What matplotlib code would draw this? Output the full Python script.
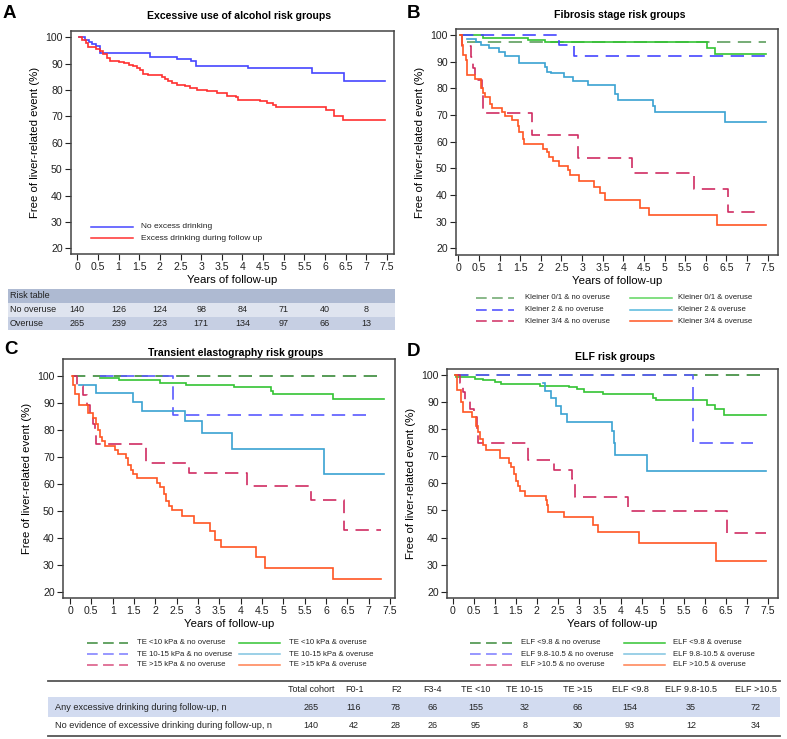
import matplotlib
matplotlib.use("Agg")
import matplotlib.pyplot as plt
from matplotlib.lines import Line2D
from matplotlib.patches import Rectangle
import matplotlib.transforms as mtransforms

plt.rcParams['font.family'] = ['Liberation Sans', 'DejaVu Sans']

W, H = 787, 739
fig = plt.figure(figsize=(W / 100, H / 100), dpi=100)


def fx(px):
    return px / W


def fy(py):
    return 1 - py / H


# ---------------- DATA ----------------
year_ticks = [0, 0.5, 1, 1.5, 2, 2.5, 3, 3.5, 4, 4.5, 5, 5.5, 6, 6.5, 7, 7.5]
year_tick_labels = ['0', '0.5', '1', '1.5', '2', '2.5', '3', '3.5', '4', '4.5', '5', '5.5', '6', '6.5', '7', '7.5']
pct_ticks = [20, 30, 40, 50, 60, 70, 80, 90, 100]

# Panel A
a_none_t = [0.05, 0.19, 0.29, 0.35, 0.45, 0.56, 1.77, 2.41, 2.75, 2.87, 4.13, 5.68, 6.47, 7.46]
a_none_s = [100, 99.0, 98.4, 97.5, 96.7, 94.2, 92.7, 91.9, 91.0, 89.3, 88.2, 86.5, 83.6, 83.6]
a_over_t = [0.05, 0.12, 0.2, 0.27, 0.45, 0.55, 0.62, 0.71, 0.79, 1.0, 1.13, 1.25, 1.36, 1.45,
            1.52, 1.6, 1.72, 2.05, 2.12, 2.2, 2.3, 2.41, 2.6, 2.73, 2.89, 3.14, 3.38, 3.62,
            3.85, 3.9, 4.43, 4.59, 4.75, 4.82, 6.03, 6.21, 6.43, 7.46]
a_over_s = [100, 99.0, 98.0, 96.5, 95.4, 94.8, 93.5, 92.0, 91.1, 90.8, 90.2, 89.6, 89.1, 88.4,
            87.6, 86.1, 85.6, 85.0, 84.2, 83.3, 82.6, 82.0, 81.5, 80.7, 80.0, 79.6, 78.8, 77.9,
            77.2, 76.2, 75.7, 75.0, 74.2, 73.4, 72.4, 70.0, 68.8, 68.8]
risk_years = [0, 1, 2, 3, 4, 5, 6, 7]
risk_no_overuse = [140, 126, 124, 98, 84, 71, 40, 8]
risk_overuse = [265, 239, 223, 171, 134, 97, 66, 13]

# Panel B (Kleiner fibrosis stage)
b_k01_no_t = [0.2, 7.45]
b_k01_no_s = [97.4, 97.4]
b_k01_ov_t = [0.05, 0.61, 1.7, 2.09, 6.03, 6.22, 7.45]
b_k01_ov_s = [100, 99.0, 98.3, 97.5, 95.0, 92.9, 92.9]
b_k2_no_t = [0.05, 2.43, 2.81, 7.43]
b_k2_no_s = [100, 96.2, 92.2, 92.2]
b_k2_ov_t = [0.22, 0.44, 0.55, 0.75, 0.99, 1.13, 1.47, 2.1, 2.16, 2.25, 2.57, 2.79, 3.14,
             3.8, 3.86, 4.72, 4.77, 6.47, 7.45]
b_k2_ov_s = [98.5, 97.5, 96.3, 95.0, 93.6, 92.2, 89.5, 88.0, 86.3, 85.6, 84.3, 82.8, 81.2,
             78.0, 75.5, 73.5, 71.2, 67.3, 67.3]
b_k34_no_t = [0.05, 0.08, 0.3, 0.35, 0.4, 0.57, 0.59, 0.61, 1.78, 2.91, 4.2, 5.72, 6.53, 7.2]
b_k34_no_s = [100, 95.8, 91.7, 87.5, 83.3, 79.2, 75.0, 70.8, 62.5, 53.7, 48.2, 42.2, 33.7, 33.7]
b_k34_ov_t = [0.05, 0.08, 0.12, 0.18, 0.22, 0.4, 0.55, 0.6, 0.65, 0.77, 0.82, 1.07, 1.12,
              1.31, 1.44, 1.48, 1.56, 1.6, 2.06, 2.15, 2.2, 2.3, 2.43, 2.65, 2.7, 2.93, 3.3,
              3.44, 3.56, 4.41, 4.63, 6.27, 7.45]
b_k34_ov_s = [100, 96.3, 92.5, 90.8, 85.0, 83.6, 80.0, 78.3, 76.7, 74.3, 72.6, 71.3, 69.5,
              68.1, 66.0, 63.5, 61.0, 59.0, 57.3, 56.0, 54.2, 52.7, 51.0, 49.3, 47.4, 45.3, 43.0,
              40.6, 38.2, 35.2, 32.4, 28.7, 28.7]

# Panel C (transient elastography)
c_te10_no_t = [0.05, 7.36]
c_te10_no_s = [100, 100]
c_te10_ov_t = [0.7, 1.14, 2.12, 2.72, 3.84, 4.72, 4.76, 6.17, 7.36]
c_te10_ov_s = [99.2, 98.6, 97.4, 96.6, 95.8, 94.5, 93.5, 91.4, 91.4]
c_te1015_no_t = [0.7, 2.41, 7.06]
c_te1015_no_s = [100, 85.7, 85.7]
c_te1015_ov_t = [0.2, 0.6, 1.47, 1.69, 2.69, 3.1, 3.8, 5.96, 7.36]
c_te1015_ov_s = [96.8, 93.7, 90.4, 87.1, 83.4, 78.9, 72.9, 63.7, 63.7]
c_te15_no_t = [0.05, 0.17, 0.3, 0.4, 0.48, 0.55, 0.58, 0.6, 1.78, 2.8, 4.14, 5.65, 6.43, 7.3]
c_te15_no_s = [100, 96.4, 92.9, 89.3, 85.7, 82.1, 78.6, 75.0, 68.0, 64.2, 59.3, 54.0, 43.2, 43.2]
c_te15_ov_t = [0.05, 0.08, 0.12, 0.2, 0.43, 0.55, 0.6, 0.65, 0.7, 0.75, 0.81, 1.06, 1.12,
               1.31, 1.37, 1.43, 1.47, 1.58, 2.04, 2.12, 2.2, 2.26, 2.31, 2.39, 2.63, 2.9,
               3.28, 3.41, 3.53, 4.37, 4.56, 6.17, 7.3]
c_te15_ov_s = [100, 96.8, 93.5, 89.4, 86.2, 84.4, 82.2, 80.2, 77.5, 75.8, 74.2, 72.7, 71.2,
               69.5, 67.0, 65.2, 63.6, 62.1, 60.6, 58.9, 56.4, 53.7, 52.1, 50.3, 48.1, 45.8,
               42.6, 39.5, 36.6, 33.2, 29.1, 25.0, 25.0]

# Panel D (ELF)
d_elf98_no_t = [0.05, 7.45]
d_elf98_no_s = [100, 100]
d_elf98_ov_t = [0.05, 0.08, 0.53, 0.71, 1.0, 1.15, 2.08, 2.77, 2.95, 3.13, 3.59, 4.77, 4.83,
                6.05, 6.25, 6.47, 7.45]
d_elf98_ov_s = [100, 99.3, 98.6, 98.0, 97.3, 96.7, 96.1, 95.4, 94.8, 93.9, 93.0, 91.5, 90.7,
                89.0, 87.3, 85.2, 85.2]
d_elf1_no_t = [0.05, 5.71, 7.14]
d_elf1_no_s = [100, 75.0, 75.0]
d_elf1_ov_t = [2.16, 2.2, 2.34, 2.45, 2.57, 2.73, 3.8, 3.84, 3.87, 4.63, 7.45]
d_elf1_ov_s = [97.2, 94.2, 91.5, 88.5, 85.5, 82.6, 79.5, 74.8, 70.4, 64.5, 64.5]
d_elf105_no_t = [0.05, 0.18, 0.25, 0.3, 0.42, 0.5, 0.57, 0.58, 0.6, 1.8, 2.42, 2.83, 2.91,
                 4.18, 6.52, 7.45]
d_elf105_no_s = [100, 96.9, 93.8, 90.6, 87.5, 84.4, 81.3, 78.1, 75.0, 68.5, 65.0, 61.5, 55.0,
                 49.8, 41.5, 41.5]
d_elf105_ov_t = [0.05, 0.1, 0.2, 0.25, 0.45, 0.55, 0.6, 0.65, 0.73, 0.8, 1.13, 1.35, 1.4,
                 1.45, 1.5, 1.55, 1.6, 1.71, 2.22, 2.24, 2.26, 2.66, 3.33, 3.47, 4.44, 6.27, 7.45]
d_elf105_ov_s = [100, 94.4, 90.0, 86.2, 84.5, 81.0, 79.0, 76.3, 74.0, 72.2, 69.4, 67.5, 66.0,
                 63.6, 61.0, 58.9, 57.0, 55.4, 54.0, 52.0, 49.4, 47.5, 44.7, 41.9, 37.8, 31.4, 31.4]

# Bottom table
tbl_columns = ['Total cohort', 'F0-1', 'F2', 'F3-4', 'TE <10', 'TE 10-15', 'TE >15',
               'ELF <9.8', 'ELF 9.8-10.5', 'ELF >10.5']
tbl_rows = ['Any excessive drinking during follow-up, n',
            'No evidence of excessive drinking during follow-up, n']
tbl_any = [265, 116, 78, 66, 155, 32, 66, 154, 35, 72]
tbl_none = [140, 42, 28, 26, 95, 8, 30, 93, 12, 34]

# ---------------- STYLE ----------------
C_DKGREEN = '#3a8a3a'
C_GREEN = '#33c433'
C_BLUE = '#4646ff'
C_LTBLUE = '#3aa2d2'
C_CRIMSON = '#d02c62'
C_ORANGE = '#ff5522'
DASH = (8, 4.5)
LW = 1.2


def make_axes(left, right, top, bottom, x0px, x75px, y100px, y20px):
    ax = fig.add_axes([fx(left), fy(bottom), (right - left) / W, (bottom - top) / H])
    xs = (x75px - x0px) / 7.5
    ys = (y20px - y100px) / 80.0
    ax.set_xlim((left - x0px) / xs, (right - x0px) / xs)
    ax.set_ylim(100 - (bottom - y100px) / ys, 100 + (y100px - top) / ys)
    ax.set_xticks(year_ticks)
    ax.set_xticklabels(year_tick_labels)
    ax.set_yticks(pct_ticks)
    ax.tick_params(direction='out', length=4, width=0.8, labelsize=7.6, colors='#222222', pad=2)
    for sp in ax.spines.values():
        sp.set_color('#444444')
        sp.set_linewidth(1.1)
    ax.set_xlabel('Years of follow-up', fontsize=8.2, labelpad=2)
    ax.set_ylabel('Free of liver-related event (%)', fontsize=8.2, labelpad=4)
    return ax


def km(ax, t, s, color, dashed=False, lw=LW):
    kw = dict(color=color, lw=lw, drawstyle='steps-post', solid_joinstyle='miter')
    if dashed:
        kw['dashes'] = DASH
    ax.plot(t, s, **kw)


def legend_item(x0, x1, xt, y, color, dashed, label, fs=5.6):
    ln = Line2D([fx(x0), fx(x1)], [fy(y), fy(y)], transform=fig.transFigure,
                color=color, lw=1.1)
    if dashed:
        ln.set_dashes((7, 3.5))
    fig.add_artist(ln)
    fig.text(fx(xt), fy(y), label, fontsize=fs, va='center', ha='left', color='#222222')


# ---------------- PANEL A ----------------
axA = make_axes(71, 394, 31, 254, 77.3, 387, 37.3, 248.3)
km(axA, a_none_t, a_none_s, C_BLUE)
km(axA, a_over_t, a_over_s, '#ff3030')
legend_item(91, 133, 141, 227, C_BLUE, False, 'No excess drinking', fs=6)
legend_item(91, 133, 141, 238, '#ff3030', False, 'Excess drinking during follow up', fs=6)

# risk table
for (y0, y1, col) in [(289, 303, '#aebad2'), (303, 316.5, '#dfe4ef'), (316.5, 330, '#c6cfe3')]:
    fig.add_artist(Rectangle((fx(8), fy(y1)), fx(395) - fx(8), fy(y0) - fy(y1),
                             transform=fig.transFigure, facecolor=col, edgecolor='none'))
fig.text(fx(10), fy(296), 'Risk table', fontsize=6.5, va='center', ha='left', color='#222222')
fig.text(fx(10), fy(309.5), 'No overuse', fontsize=6.5, va='center', ha='left', color='#222222')
fig.text(fx(10), fy(323), 'Overuse', fontsize=6.5, va='center', ha='left', color='#222222')
trA = mtransforms.blended_transform_factory(axA.transData, fig.transFigure)
for yr, n1, n2 in zip(risk_years, risk_no_overuse, risk_overuse):
    fig.text(yr, fy(309.5), str(n1), transform=trA, fontsize=6.5, va='center', ha='center',
             color='#222222')
    fig.text(yr, fy(323), str(n2), transform=trA, fontsize=6.5, va='center', ha='center',
             color='#222222')

# ---------------- PANEL B ----------------
axB = make_axes(456, 778, 29, 255, 458.3, 767.7, 35, 248.3)
km(axB, b_k01_no_t, b_k01_no_s, '#5e9e5e', dashed=True)
km(axB, b_k01_ov_t, b_k01_ov_s, C_GREEN)
km(axB, b_k2_no_t, b_k2_no_s, C_BLUE, dashed=True)
km(axB, b_k2_ov_t, b_k2_ov_s, C_LTBLUE)
km(axB, b_k34_no_t, b_k34_no_s, C_CRIMSON, dashed=True)
km(axB, b_k34_ov_t, b_k34_ov_s, C_ORANGE)
b_labels = [('Kleiner 0/1 & no overuse', '#6aa66a', True), ('Kleiner 2 & no overuse', C_BLUE, True),
            ('Kleiner 3/4 & no overuse', C_CRIMSON, True), ('Kleiner 0/1 & overuse', '#5fd65f', False),
            ('Kleiner 2 & overuse', '#55b8dd', False), ('Kleiner 3/4 & overuse', C_ORANGE, False)]
for i, (lab, col, d) in enumerate(b_labels):
    y = [298, 310, 321][i % 3]
    if i < 3:
        legend_item(476, 514, 525, y, col, d, lab)
    else:
        legend_item(630, 672, 678, y, col, d, lab)

# ---------------- PANEL C ----------------
axC = make_axes(63, 395, 359, 598, 70, 390, 376, 592.3)
km(axC, c_te10_no_t, c_te10_no_s, C_DKGREEN, dashed=True)
km(axC, c_te10_ov_t, c_te10_ov_s, C_GREEN)
km(axC, c_te1015_no_t, c_te1015_no_s, '#5a5aff', dashed=True)
km(axC, c_te1015_ov_t, c_te1015_ov_s, C_LTBLUE)
km(axC, c_te15_no_t, c_te15_no_s, C_CRIMSON, dashed=True)
km(axC, c_te15_ov_t, c_te15_ov_s, C_ORANGE)
c_labels = [('TE <10 kPa & no overuse', C_DKGREEN, True), ('TE 10-15 kPa & no overuse', '#7a7aff', True),
            ('TE >15 kPa & no overuse', '#d8507e', True), ('TE <10 kPa & overuse', C_GREEN, False),
            ('TE 10-15 kPa & overuse', '#80c4e0', False), ('TE >15 kPa & overuse', '#ff8050', False)]
for i, (lab, col, d) in enumerate(c_labels):
    y = [643, 654, 665][i % 3]
    if i < 3:
        legend_item(87, 128, 137, y, col, d, lab)
    else:
        legend_item(239, 280, 289, y, col, d, lab)

# ---------------- PANEL D ----------------
axD = make_axes(447, 778, 369, 598, 452.7, 767.7, 375, 591.7)
km(axD, d_elf98_no_t, d_elf98_no_s, C_DKGREEN, dashed=True)
km(axD, d_elf98_ov_t, d_elf98_ov_s, C_GREEN)
km(axD, d_elf1_no_t, d_elf1_no_s, '#5a5aff', dashed=True)
km(axD, d_elf1_ov_t, d_elf1_ov_s, C_LTBLUE)
km(axD, d_elf105_no_t, d_elf105_no_s, C_CRIMSON, dashed=True)
km(axD, d_elf105_ov_t, d_elf105_ov_s, C_ORANGE)
d_labels = [('ELF <9.8 & no overuse', C_DKGREEN, True), ('ELF 9.8-10.5 & no overuse', '#7a7aff', True),
            ('ELF >10.5 & no overuse', '#d8507e', True), ('ELF <9.8 & overuse', C_GREEN, False),
            ('ELF 9.8-10.5 & overuse', '#80c4e0', False), ('ELF >10.5 & overuse', '#ff8050', False)]
for i, (lab, col, d) in enumerate(d_labels):
    y = [643, 654, 665][i % 3]
    if i < 3:
        legend_item(470, 512, 521, y, col, d, lab)
    else:
        legend_item(624, 665, 673, y, col, d, lab)

# ---------------- TITLES / LETTERS ----------------
fig.text(fx(239), fy(16), 'Excessive use of alcohol risk groups', fontsize=7.6, weight='bold',
         ha='center', va='center')
fig.text(fx(620), fy(15), 'Fibrosis stage risk groups', fontsize=7.6, weight='bold',
         ha='center', va='center')
fig.text(fx(236), fy(353), 'Transient elastography risk groups', fontsize=7.6, weight='bold',
         ha='center', va='center')
fig.text(fx(615), fy(357), 'ELF risk groups', fontsize=7.6, weight='bold', ha='center', va='center')
for lab, x, y in [('A', 3, 14), ('B', 407, 14), ('C', 4, 349), ('D', 407, 352)]:
    fig.text(fx(x), fy(y), lab, fontsize=13.5, weight='bold', ha='left', va='center')

# ---------------- BOTTOM TABLE ----------------
col_x = [311, 354, 396, 433, 476, 525, 578, 630, 691, 756]
fig.add_artist(Rectangle((fx(48), fy(717)), fx(780) - fx(48), fy(697) - fy(717),
                         transform=fig.transFigure, facecolor='#d2dbf0', edgecolor='none'))
for yl in [681, 736]:
    fig.add_artist(Line2D([fx(48), fx(780)], [fy(yl), fy(yl)], transform=fig.transFigure,
                          color='#555555', lw=1.3))
for cx, name, v1, v2 in zip(col_x, tbl_columns, tbl_any, tbl_none):
    fig.text(fx(cx), fy(689), name, fontsize=6.5, ha='center', va='center', color='#222222')
    fig.text(fx(cx), fy(707), str(v1), fontsize=6.5, ha='center', va='center', color='#222222')
    fig.text(fx(cx), fy(726), str(v2), fontsize=6.5, ha='center', va='center', color='#222222')
fig.text(fx(55), fy(707), tbl_rows[0], fontsize=6.6, ha='left', va='center', color='#222222')
fig.text(fx(55), fy(726), tbl_rows[1], fontsize=6.6, ha='left', va='center', color='#222222')

fig.savefig('out.png', dpi=100)
